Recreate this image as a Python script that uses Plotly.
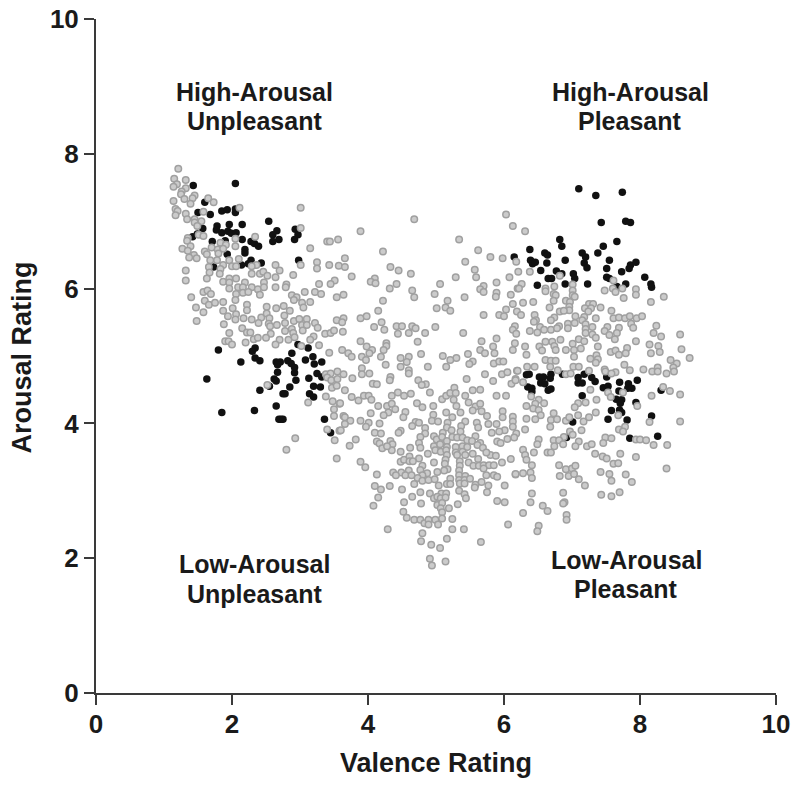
import plotly.graph_objects as go

# (valence, arousal) ratings
black_unpleasant_high = [(1.43,7.53),(2.05,7.56),(1.60,7.28),(1.50,7.13),(1.68,7.10),(1.85,7.15),(1.93,7.17),(2.05,7.18),(2.05,7.13),(2.54,7.00),(2.15,6.95),(1.96,6.95),(1.78,6.93),(1.77,6.87),(1.85,6.83),(1.94,6.85),(1.99,6.82),(2.06,6.83),(1.57,6.89),(1.49,6.81),(1.42,6.77),(2.66,6.86),(2.60,6.80),(2.93,6.88),(2.97,6.80),(2.92,6.73),(2.69,6.73),(2.60,6.70),(1.71,6.70),(1.90,6.71),(2.15,6.73),(2.28,6.70),(2.33,6.67),(2.39,6.63),(2.19,6.58),(2.19,6.53),(1.93,6.51),(2.28,6.42),(2.24,6.37),(2.43,6.38),(2.14,6.35),(1.73,6.32),(2.98,6.42)]
black_unpleasant_low = [(1.80,5.09),(2.34,5.12),(2.30,5.07),(2.34,4.97),(2.41,4.93),(2.13,4.91),(2.97,5.17),(3.12,5.12),(2.88,5.04),(3.19,4.99),(3.08,4.94),(3.21,4.88),(3.32,4.91),(2.82,4.93),(2.87,4.89),(2.92,4.83),(2.92,4.75),(2.65,4.91),(2.71,4.91),(2.67,4.87),(2.67,4.76),(3.25,4.74),(3.32,4.69),(3.13,4.67),(2.94,4.64),(2.62,4.66),(2.65,4.63),(1.63,4.66),(2.55,4.55),(2.41,4.49),(2.85,4.54),(3.20,4.55),(3.30,4.54),(2.75,4.44),(2.78,4.44),(3.14,4.44),(3.20,4.39),(2.65,4.26),(2.33,4.19),(1.85,4.16),(2.69,4.06),(2.72,4.06),(2.75,4.06),(3.36,4.06),(3.45,3.86)]
black_pleasant_high = [(7.10,7.48),(7.35,7.38),(7.74,7.43),(7.43,6.98),(7.79,7.0),(7.86,6.98),(6.82,6.73),(6.85,6.63),(6.38,6.58),(7.66,6.70),(7.46,6.63),(7.38,6.53),(6.60,6.53),(6.64,6.50),(7.15,6.53),(7.20,6.47),(6.15,6.47),(6.39,6.42),(6.42,6.37),(6.46,6.39),(6.63,6.38),(6.90,6.42),(7.18,6.38),(7.22,6.31),(7.55,6.42),(7.51,6.30),(7.86,6.35),(7.94,6.39),(7.84,6.30),(7.73,6.25),(6.54,6.27),(6.77,6.26),(6.85,6.22),(7.02,6.22),(7.04,6.15),(6.65,6.15),(6.70,6.15),(7.51,6.17),(7.55,6.15),(8.07,6.17),(8.16,6.07),(8.17,6.02),(6.49,6.05),(6.90,6.07),(7.23,6.07),(7.79,6.07),(7.66,6.03)]
black_pleasant_low = [(6.33,4.72),(6.37,4.73),(6.52,4.69),(6.58,4.69),(6.69,4.73),(6.68,4.67),(6.54,4.60),(6.60,4.59),(6.35,4.54),(6.41,4.52),(6.41,4.47),(6.65,4.49),(6.69,4.51),(6.86,4.73),(7.09,4.68),(7.18,4.73),(7.09,4.60),(7.15,4.60),(7.29,4.68),(7.34,4.62),(7.51,4.69),(7.70,4.61),(7.46,4.53),(7.53,4.55),(7.83,4.59),(7.96,4.64),(7.82,4.52),(7.88,4.52),(7.69,4.48),(7.15,4.41),(8.31,4.49),(7.65,4.36),(7.73,4.35),(7.71,4.30),(7.94,4.31),(7.58,4.19),(7.70,4.20),(7.73,4.16),(8.17,4.11),(7.53,4.06),(7.81,4.05),(7.01,4.02),(7.85,3.78),(8.26,3.81),(6.92,3.79)]

gray_upper_left = [(1.21,7.78),(1.15,7.63),(1.32,7.61),(1.19,7.55),(1.14,7.51),(1.32,7.49),(1.26,7.44),(1.25,7.40),(1.45,7.38),(1.65,7.34),(1.30,7.33),(1.42,7.34),(1.73,7.28),(1.14,7.30),(1.39,7.26),(1.17,7.18),(1.20,7.15),(1.17,7.09),(1.32,7.11),(1.34,7.03),(1.58,7.14),(2.11,7.20),(3.01,7.20),(1.45,7.03),(1.55,7.00),(1.45,6.98),(1.49,6.93),(3.01,6.90),(1.51,6.80),(1.58,6.78),(1.35,6.75),(1.34,6.71),(2.34,6.77),(1.83,6.68),(1.91,6.65),(2.05,6.74),(3.56,6.73),(3.40,6.70),(3.44,6.70),(1.39,6.63),(1.27,6.59),(1.35,6.56),(2.05,6.63),(1.70,6.61),(1.60,6.55),(1.63,6.51),(1.79,6.58),(1.87,6.59),(1.80,6.52),(3.15,6.60),(1.44,6.50),(1.37,6.46),(1.48,6.45),(1.68,6.42),(1.78,6.42),(1.96,6.42),(2.10,6.44),(3.25,6.39),(1.66,6.32),(1.87,6.35),(1.83,6.29),(1.32,6.27),(2.0,6.33),(2.06,6.33),(2.36,6.35),(2.29,6.33),(2.64,6.35),(2.70,6.27),(3.01,6.35),(3.25,6.30),(3.43,6.35),(3.57,6.34),(1.67,6.24),(1.82,6.22),(2.29,6.22),(2.41,6.22),(2.46,6.25),(2.52,6.19),(2.90,6.20),(1.63,6.15),(1.32,6.12),(1.96,6.15),(2.06,6.15),(1.87,6.10),(1.96,6.09),(2.19,6.09),(2.64,6.17),(2.47,6.09),(2.80,6.06),(3.28,6.07),(3.51,6.12),(3.45,6.07),(1.96,6.0),(2.09,6.02),(2.16,6.02),(2.29,6.02),(2.38,5.99),(2.47,6.02),(2.64,6.02),(2.79,6.02),(3.07,5.95),(3.22,5.95),(3.31,5.92),(2.06,5.92),(2.16,5.94),(2.24,5.95),(2.41,5.91),(1.58,5.95),(1.64,5.97),(1.69,5.92),(1.40,5.87),(3.54,5.87),(2.88,5.90),(2.95,5.87)]
gray_lower_left = [(1.47,5.72),(1.58,5.65),(1.48,5.52),(1.60,5.82),(1.66,5.76),(1.75,5.79),(1.87,5.80),(1.87,5.67),(1.88,5.47),(1.94,5.59),(2.01,5.71),(2.06,5.62),(2.05,5.83),(2.22,5.76),(2.22,5.68),(2.05,5.54),(2.17,5.56),(2.29,5.54),(2.43,5.57),(2.51,5.73),(2.65,5.71),(2.76,5.74),(2.85,5.67),(2.77,5.60),(2.51,5.63),(2.55,5.56),(2.39,5.49),(2.54,5.48),(2.56,5.44),(2.66,5.46),(2.78,5.49),(2.91,5.52),(2.99,5.55),(3.10,5.55),(3.03,5.46),(3.10,5.46),(3.22,5.49),(3.26,5.42),(3.54,5.53),(2.91,5.83),(3.03,5.79),(3.15,5.80),(3.05,5.72),(2.15,5.41),(1.96,5.34),(2.22,5.35),(2.27,5.35),(2.57,5.33),(2.50,5.27),(2.32,5.25),(2.38,5.27),(2.78,5.37),(2.88,5.40),(2.90,5.34),(3.04,5.38),(3.37,5.33),(3.45,5.34),(3.50,5.38),(1.90,5.22),(1.95,5.22),(2.0,5.17),(2.20,5.20),(2.70,5.24),(2.64,5.17),(2.83,5.24),(2.92,5.28),(3.20,5.29),(3.15,5.24),(3.02,5.15),(3.28,5.16),(3.43,5.05),(3.38,4.73),(3.45,4.74),(3.55,4.77),(3.40,4.68),(3.46,4.64),(3.55,4.66),(2.52,4.57),(3.47,4.53),(3.54,4.56),(3.38,4.40),(3.12,4.31),(3.48,4.33),(3.58,4.29),(3.50,4.21),(3.50,4.11),(3.40,3.91),(3.58,3.89),(2.93,3.78),(3.51,3.75),(2.80,3.61),(3.54,3.48)]
gray_upper_middle = [(4.68,7.03),(3.89,6.85),(6.03,7.10),(6.13,6.93),(5.34,6.73),(4.22,6.55),(5.62,6.57),(5.80,6.47),(5.98,6.45),(6.18,6.40),(5.43,6.40),(3.66,6.45),(3.66,6.32),(4.33,6.32),(4.45,6.27),(4.63,6.22),(3.76,6.18),(5.57,6.28),(5.59,6.17),(5.29,6.17),(6.21,6.25),(6.08,6.17),(4.10,6.15),(4.04,6.10),(4.11,6.08),(4.42,6.07),(4.32,6.0),(5.06,6.07),(5.89,6.09),(5.70,6.04),(5.65,5.99),(5.70,5.95),(4.65,5.97),(4.68,5.87),(4.98,5.92),(5.42,5.87),(5.89,5.94),(5.88,5.88),(6.10,5.91),(6.20,6.0),(3.64,5.91),(4.22,5.82),(5.17,5.82),(6.13,5.77),(5.01,5.71),(5.14,5.72),(5.21,5.67),(4.15,5.67),(6.03,5.69),(6.19,5.66),(5.70,5.61),(5.93,5.61),(6.0,5.59),(3.64,5.56),(3.89,5.56),(3.98,5.59),(4.20,5.50),(3.62,5.50),(4.09,5.43),(4.24,5.39),(4.42,5.44),(4.50,5.44),(4.65,5.44),(4.70,5.41),(4.99,5.43),(6.16,5.44),(6.13,5.39),(3.63,5.36),(4.44,5.33),(4.60,5.34),(4.84,5.34),(5.40,5.34),(6.18,5.33),(3.89,5.22),(4.73,5.21),(5.67,5.22),(5.89,5.26),(3.98,5.14),(4.27,5.19),(4.27,5.15),(6.16,5.19),(5.84,5.14),(3.62,5.09),(4.06,5.09),(4.23,5.09),(4.02,5.04),(5.65,5.09),(5.72,5.04),(5.86,5.04),(6.13,5.09),(3.71,5.04),(3.76,4.99),(3.91,4.99),(4.19,4.99),(4.78,5.03),(4.60,4.99),(4.48,4.97),(5.10,5.0),(5.30,4.97),(5.21,4.94),(5.47,5.03),(3.97,4.94),(5.54,4.92),(5.49,4.88),(4.57,4.91),(4.26,4.87),(4.48,4.84),(4.88,4.84),(5.15,4.84),(5.85,4.89),(5.93,4.92),(5.99,4.92),(3.91,4.82),(6.19,4.78),(4.60,4.79),(4.60,4.74),(3.64,4.73),(3.91,4.73),(4.02,4.74),(3.77,4.67),(5.72,4.73),(5.97,4.73),(6.05,4.76),(4.33,4.69),(4.32,4.64),(5.45,4.66),(5.84,4.63),(6.17,4.66),(4.74,4.64),(4.85,4.58),(4.79,4.57),(6.11,4.59),(4.07,4.59),(4.13,4.58)]
gray_lower_middle = [(3.66,4.49),(3.76,4.39),(3.86,4.34),(3.94,4.41),(4.01,4.41),(4.05,4.35),(4.15,4.26),(4.35,4.41),(4.44,4.46),(4.53,4.41),(4.63,4.44),(4.91,4.46),(5.09,4.36),(5.15,4.41),(5.21,4.45),(5.27,4.53),(5.29,4.45),(5.26,4.35),(5.43,4.41),(5.54,4.49),(5.65,4.50),(5.89,4.41),(6.03,4.41),(5.48,4.31),(5.58,4.25),(5.65,4.29),(5.54,4.19),(5.67,4.18),(5.75,4.11),(5.98,4.18),(5.98,4.09),(6.13,4.10),(6.13,4.03),(6.13,3.95),(3.59,4.30),(4.04,4.15),(3.64,4.11),(3.66,4.09),(3.74,4.04),(3.66,3.99),(3.89,4.04),(4.01,4.01),(3.97,3.95),(3.60,3.90),(4.28,4.26),(4.35,4.29),(4.40,4.21),(4.30,4.16),(4.23,4.12),(4.17,4.0),(4.55,4.17),(4.52,4.09),(4.72,4.30),(4.80,4.24),(4.96,4.26),(5.15,4.16),(5.30,4.26),(5.36,4.16),(4.96,4.13),(4.94,4.04),(5.03,4.03),(5.24,4.09),(5.17,4.01),(5.16,3.94),(5.43,4.03),(5.37,3.96),(5.60,4.01),(5.62,3.94),(5.77,3.99),(5.89,3.99),(6.01,3.90),(5.93,3.88),(5.82,3.86),(6.18,3.85),(4.70,4.02),(4.75,4.01),(4.65,3.96),(4.84,3.93),(4.84,3.85),(4.48,3.89),(4.45,3.86),(4.10,3.86),(4.19,3.85),(4.77,3.80),(4.97,3.81),(5.10,3.86),(5.23,3.90),(5.36,3.88),(5.58,3.81),(5.01,3.76),(5.09,3.80),(5.16,3.74),(5.24,3.80),(5.31,3.79),(5.39,3.79),(5.46,3.75),(5.53,3.74),(5.65,3.71),(5.90,3.73),(5.95,3.71),(6.15,3.79),(6.05,3.77),(3.82,3.76),(3.73,3.67),(4.13,3.73),(4.17,3.70),(4.33,3.74),(4.36,3.69),(4.21,3.63),(4.35,3.60),(4.28,3.66),(4.75,3.71),(4.77,3.64),(4.62,3.64),(4.48,3.58),(4.97,3.66),(5.06,3.69),(5.16,3.65),(5.29,3.65),(5.39,3.66),(5.46,3.65),(5.61,3.68),(5.69,3.64),(4.99,3.60),(5.07,3.58),(5.15,3.60),(5.29,3.57),(5.39,3.58),(4.88,3.55),(5.16,3.53),(5.31,3.53),(5.43,3.53),(5.54,3.55),(5.80,3.53),(5.88,3.52),(5.74,3.57),(5.62,3.47),(6.10,3.47),(5.97,3.42),(3.89,3.43),(3.96,3.35),(4.48,3.43),(4.53,3.46),(4.61,3.51),(4.61,3.44),(4.75,3.48),(4.66,3.44),(4.97,3.42),(5.14,3.46),(5.13,3.40),(5.35,3.44),(5.48,3.42),(5.55,3.37),(5.63,3.37),(5.70,3.38),(5.78,3.38),(5.85,3.38),(5.70,3.33),(5.35,3.37),(4.80,3.37),(4.77,3.31),(4.87,3.26),(5.17,3.32),(5.12,3.30),(5.02,3.28),(5.34,3.30),(4.60,3.30),(4.49,3.27),(4.37,3.27),(4.41,3.23),(4.13,3.24),(4.55,3.23),(4.64,3.23),(4.80,3.23),(5.34,3.23),(5.43,3.22),(5.74,3.23),(5.85,3.23),(5.90,3.21),(6.17,3.24),(4.73,3.19),(4.80,3.15),(4.89,3.16),(4.98,3.17),(5.21,3.18),(5.34,3.16),(5.42,3.16),(5.50,3.18),(4.68,3.10),(5.04,3.08),(5.16,3.10),(5.21,3.10),(5.35,3.11),(5.42,3.11),(5.58,3.09),(5.67,3.13),(5.77,3.08),(6.01,3.08),(4.10,3.07),(4.19,3.02),(4.32,3.07),(4.50,3.02),(4.77,2.98),(4.91,2.96),(5.08,2.96),(5.15,2.96),(5.34,3.0),(5.42,2.95),(5.57,3.05),(5.75,2.98),(4.15,2.90),(4.65,2.91),(4.97,2.89),(5.02,2.91),(5.07,2.89),(5.14,2.90),(5.44,2.89),(4.53,2.83),(4.78,2.81),(5.02,2.79),(5.09,2.82),(5.32,2.80),(5.90,2.85),(6.01,2.83),(4.08,2.78),(5.19,2.74),(5.07,2.74),(4.52,2.69),(5.09,2.68),(4.57,2.60),(4.68,2.57),(4.77,2.57),(4.83,2.52),(4.89,2.57),(4.89,2.50),(4.99,2.57),(5.03,2.50),(5.09,2.59),(5.24,2.58),(5.24,2.43),(5.41,2.43),(4.29,2.43),(4.80,2.37),(6.06,2.50),(4.78,2.25),(4.93,2.20),(5.06,2.15),(5.16,2.29),(5.66,2.24),(4.91,1.99),(4.94,1.89),(5.14,1.95)]
gray_upper_right = [(6.31,6.85),(6.38,6.25),(6.26,6.07),(6.22,6.0),(6.61,6.0),(6.61,5.96),(6.74,6.03),(6.82,6.19),(7.01,6.06),(7.01,5.97),(6.73,5.92),(6.76,5.90),(7.01,5.90),(7.04,5.88),(7.48,5.97),(7.61,6.12),(7.60,6.0),(7.64,5.95),(7.74,6.0),(7.94,5.99),(7.94,5.91),(8.35,5.88),(7.76,5.86),(8.16,5.80),(6.43,5.80),(6.28,5.79),(6.73,5.82),(6.91,5.82),(6.97,5.80),(6.67,5.72),(6.96,5.73),(6.96,5.68),(6.82,5.66),(6.88,5.67),(7.25,5.77),(7.31,5.77),(7.19,5.71),(7.28,5.71),(7.42,5.72),(7.24,5.66),(7.58,5.67),(6.45,5.61),(6.25,5.61),(6.47,5.53),(6.44,5.51),(6.74,5.57),(6.69,5.53),(7.05,5.59),(7.18,5.58),(7.35,5.56),(7.61,5.56),(7.69,5.57),(7.78,5.56),(7.85,5.59),(7.95,5.56),(8.03,5.59),(7.15,5.53),(6.53,5.43),(6.59,5.39),(6.69,5.39),(6.49,5.35),(6.38,5.37),(6.81,5.44),(6.78,5.41),(6.94,5.48),(6.94,5.41),(7.04,5.49),(7.20,5.47),(7.30,5.43),(7.20,5.40),(7.52,5.43),(7.48,5.37),(7.69,5.42),(7.87,5.48),(7.90,5.42),(8.24,5.45),(8.20,5.34),(8.31,5.29),(8.59,5.32),(7.20,5.34),(7.30,5.32),(7.35,5.27),(7.55,5.31),(7.66,5.34),(7.63,5.25),(7.10,5.25),(6.83,5.24),(6.61,5.21),(6.71,5.21),(7.01,5.18),(7.18,5.22),(7.94,5.22),(8.14,5.17),(8.27,5.15),(8.61,5.10),(6.52,5.14),(6.31,5.14),(6.74,5.15),(6.76,5.09),(7.13,5.11),(7.38,5.14),(7.81,5.12),(6.56,5.08),(6.33,5.02),(6.91,5.09),(7.03,5.09),(7.03,4.99),(7.57,5.06),(7.64,5.08),(7.69,5.02),(7.79,5.04),(8.16,5.04),(8.29,5.06),(8.73,4.97),(7.36,5.01),(7.27,4.96),(7.38,4.95),(8.45,4.94),(8.54,4.89),(6.61,4.94),(6.69,4.93),(6.76,4.93),(7.02,4.84),(7.10,4.84),(6.34,4.84),(6.45,4.84),(6.68,4.84),(7.35,4.90),(7.77,4.87),(8.26,4.83),(8.49,4.83),(7.48,4.80),(8.05,4.80)]
gray_lower_right = [(6.20,4.78),(6.28,4.61),(6.17,4.64),(6.79,4.79),(6.91,4.73),(6.98,4.74),(7.25,4.78),(7.49,4.77),(7.64,4.76),(7.58,4.74),(7.85,4.79),(8.18,4.77),(8.26,4.77),(8.39,4.74),(8.50,4.77),(8.34,4.54),(8.44,4.48),(8.17,4.41),(8.59,4.43),(7.27,4.50),(7.53,4.46),(7.75,4.46),(7.57,4.39),(7.36,4.35),(7.20,4.31),(7.09,4.30),(6.40,4.40),(6.51,4.35),(6.46,4.29),(6.59,4.30),(6.33,4.26),(6.43,4.22),(6.51,4.20),(7.04,4.24),(7.96,4.26),(7.35,4.16),(7.09,4.12),(6.73,4.15),(6.54,4.12),(6.33,4.07),(6.46,4.06),(6.69,4.05),(6.78,4.06),(6.91,4.04),(6.96,4.09),(7.17,4.03),(7.25,4.09),(7.68,4.12),(8.14,4.02),(8.59,4.03),(6.68,3.95),(7.14,3.90),(7.69,3.91),(7.78,3.95),(7.75,3.88),(6.31,3.91),(6.97,3.88),(7.01,3.83),(6.88,3.80),(7.94,3.76),(8.0,3.76),(8.09,3.75),(7.49,3.79),(7.58,3.78),(7.46,3.71),(6.51,3.76),(6.49,3.69),(6.73,3.75),(6.81,3.75),(6.74,3.66),(6.87,3.69),(7.10,3.73),(7.05,3.66),(7.22,3.66),(7.29,3.69),(8.20,3.68),(8.40,3.68),(6.28,3.61),(6.31,3.53),(6.44,3.57),(6.33,3.46),(6.64,3.57),(6.69,3.57),(7.34,3.55),(7.45,3.51),(7.51,3.48),(7.71,3.55),(7.94,3.50),(6.41,3.38),(6.81,3.38),(6.91,3.32),(7.0,3.33),(7.05,3.37),(7.61,3.40),(7.68,3.41),(8.39,3.33),(7.42,3.28),(7.55,3.25),(7.58,3.15),(7.79,3.24),(7.88,3.13),(6.28,3.26),(6.39,3.27),(6.17,3.25),(6.41,3.19),(6.82,3.22),(6.95,3.22),(7.03,3.25),(7.10,3.17),(7.19,3.08),(6.41,2.96),(6.87,2.97),(7.43,2.94),(7.58,2.92),(7.70,2.98),(6.39,2.83),(6.57,2.78),(6.64,2.70),(6.89,2.83),(6.87,2.81),(6.28,2.67),(6.92,2.64),(6.92,2.57),(6.51,2.48),(6.49,2.40)]

tick_values = [0, 2, 4, 6, 8, 10]
quadrant_labels = [
    ("High-Arousal", 2.33, 8.91),
    ("Unpleasant", 2.33, 8.48),
    ("High-Arousal", 7.86, 8.91),
    ("Pleasant", 7.86, 8.48),
    ("Low-Arousal", 2.33, 1.92),
    ("Unpleasant", 2.33, 1.47),
    ("Low-Arousal", 7.80, 1.97),
    ("Pleasant", 7.80, 1.54),
]
x_title = "Valence Rating"
y_title = "Arousal Rating"

black = black_unpleasant_high + black_unpleasant_low + black_pleasant_high + black_pleasant_low
gray = gray_upper_left + gray_lower_left + gray_upper_middle + gray_lower_middle + gray_upper_right + gray_lower_right

FONT = "Liberation Sans"
INK = "#1a1a1a"
fig = go.Figure()
fig.add_trace(go.Scatter(x=[p[0] for p in black], y=[p[1] for p in black], mode="markers",
                         marker=dict(size=7.5, color="#111111", line=dict(width=0))))
fig.add_trace(go.Scatter(x=[p[0] for p in gray], y=[p[1] for p in gray], mode="markers",
                         marker=dict(size=6.5, color="#cbcbcb", line=dict(width=1.5, color="#a0a0a0"))))
for text, vx, vy in quadrant_labels:
    fig.add_annotation(x=vx, y=vy, text=f"<b>{text}</b>", showarrow=False,
                       font=dict(family=FONT, size=25, color=INK))
fig.add_annotation(xref="paper", yref="paper", x=0.5, y=-0.129, text=f"<b>{x_title}</b>", showarrow=False,
                   font=dict(family=FONT, size=27, color=INK))
fig.add_annotation(xref="paper", yref="paper", x=-0.1345, y=0.497, text=f"<b>{y_title}</b>", showarrow=False,
                   textangle=-90, font=dict(family=FONT, size=27, color=INK))

axis = dict(range=[0, 10], tickvals=tick_values, ticks="outside", ticklen=10, tickwidth=2,
            tickcolor="#3a3a3a", showline=True, linecolor="#3a3a3a", linewidth=2,
            showgrid=False, zeroline=False, automargin=False,
            tickfont=dict(family=FONT, size=26, color=INK, weight="bold"))
fig.update_xaxes(**axis, ticklabelstandoff=-3)
fig.update_yaxes(**axis)
fig.update_layout(width=800, height=787, showlegend=False, plot_bgcolor="white", paper_bgcolor="white",
                  margin=dict(l=96, r=24, t=19, b=94))
fig.write_html("out.html", config={"displayModeBar": False},
               post_script="document.body.style.margin='0';document.documentElement.style.overflow='hidden';")
